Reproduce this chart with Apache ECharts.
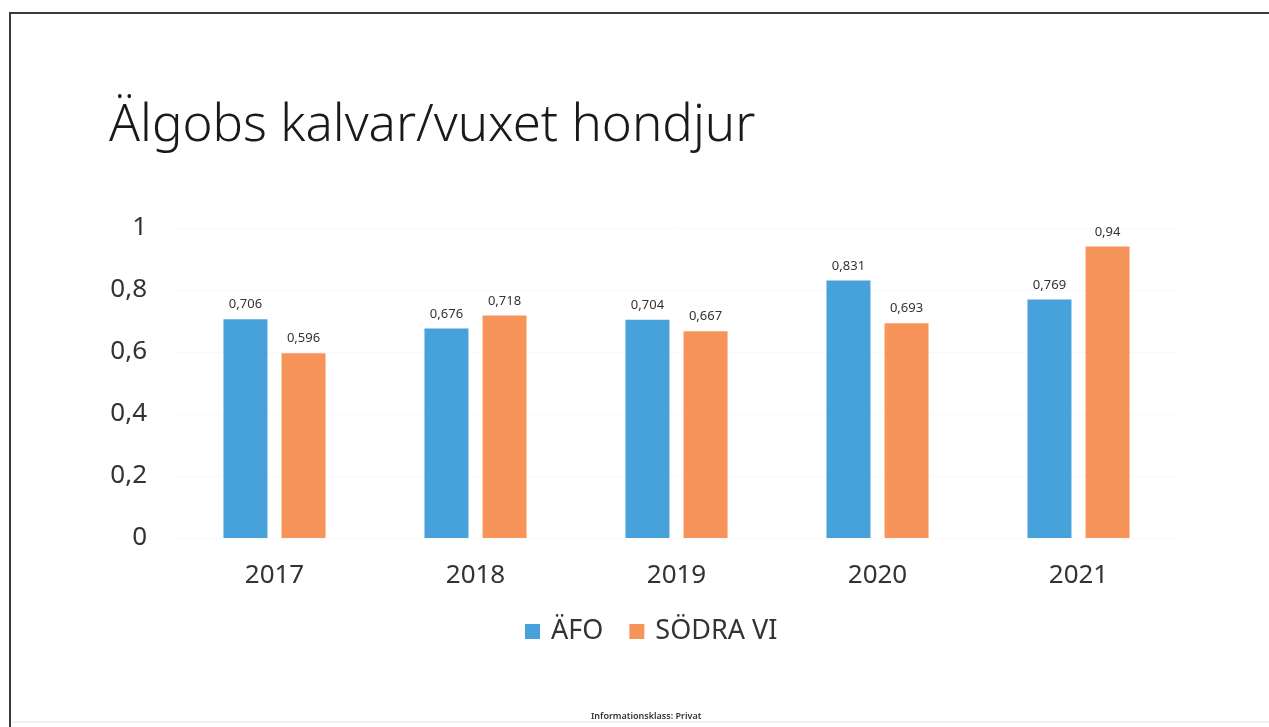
<!DOCTYPE html>
<html>
<head>
<meta charset="utf-8">
<script src="https://cdn.jsdelivr.net/npm/echarts@6/dist/echarts.min.js"></script>
<style>
  html, body { margin: 0; padding: 0; background: #fff; }
  #chart { width: 1269px; height: 727px; }
</style>
</head>
<body>
<div id="chart"></div>
<script>
// data
const years = ['2017', '2018', '2019', '2020', '2021'];
const afo = [0.706, 0.676, 0.704, 0.831, 0.769];
const sodraVi = [0.596, 0.718, 0.667, 0.693, 0.94];
const seriesNames = ['ÄFO', 'SÖDRA VI'];

const FONT = '"Noto Sans", "Open Sans", sans-serif';
const comma = v => String(v).replace('.', ',');

const chart = echarts.init(document.getElementById('chart'));

const option = {
  backgroundColor: '#ffffff',
  animation: false,
  title: {
    text: 'Älgobs kalvar/vuxet hondjur',
    left: 104,
    top: 96,
    textStyle: { fontFamily: FONT, fontSize: 51, fontWeight: 300, color: '#1a1a1a' }
  },
  legend: {
    data: seriesNames,
    left: 520,
    top: 613,
    itemWidth: 15,
    itemHeight: 15,
    itemGap: 26,
    icon: 'rect',
    textStyle: { fontFamily: FONT, fontSize: 27, color: '#333', padding: [0, 0, 0, 6] }
  },
  grid: { left: 174, right: 90, top: 228, bottom: 189 },
  xAxis: {
    type: 'category',
    data: years,
    axisLine: { show: false },
    axisTick: { show: false },
    axisLabel: { fontFamily: FONT, fontSize: 26, color: '#333', margin: 25 }
  },
  yAxis: {
    type: 'value',
    min: 0,
    max: 1,
    interval: 0.2,
    axisLine: { show: false },
    axisTick: { show: false },
    splitLine: { lineStyle: { color: '#f8f8f8', width: 1 } },
    axisLabel: {
      fontFamily: FONT, fontSize: 26, color: '#333', margin: 27,
      formatter: v => comma(v)
    }
  },
  series: [
    {
      name: seriesNames[0],
      type: 'bar',
      data: afo,
      barWidth: 44,
      barGap: '32%',
      itemStyle: { color: '#47a1db' },
      label: {
        show: true, position: 'top', distance: 8,
        fontFamily: FONT, fontSize: 13, color: '#333',
        formatter: p => comma(p.value)
      }
    },
    {
      name: seriesNames[1],
      type: 'bar',
      data: sodraVi,
      barWidth: 44,
      itemStyle: { color: '#f79459' },
      label: {
        show: true, position: 'top', distance: 8,
        fontFamily: FONT, fontSize: 13, color: '#333',
        formatter: p => comma(p.value)
      }
    }
  ],
  graphic: [
    // scanned slide frame
    { type: 'line', shape: { x1: 11, y1: 13, x2: 1269, y2: 13 }, style: { stroke: '#3a3a3a', lineWidth: 2 } },
    { type: 'line', shape: { x1: 10, y1: 12, x2: 10, y2: 727 }, style: { stroke: '#3a3a3a', lineWidth: 2 } },
    { type: 'line', shape: { x1: 12, y1: 722, x2: 1269, y2: 722 }, style: { stroke: '#e2e2e2', lineWidth: 1 } },
    {
      type: 'text', left: 591, top: 712,
      style: { text: 'Informationsklass: Privat', font: '600 9px ' + FONT, fill: '#333' }
    }
  ]
};

chart.setOption(option);
</script>
</body>
</html>
